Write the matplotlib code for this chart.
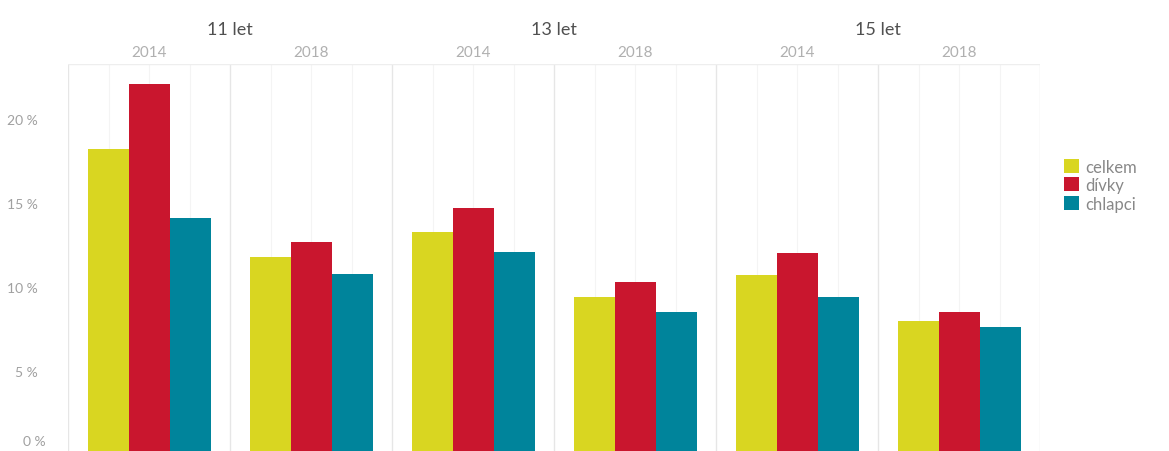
#!/usr/bin/env python3

import numpy as np
import matplotlib
matplotlib.use('Agg')
import matplotlib.pyplot as plt
from matplotlib.patches import Patch

# data (% )
ages = ['11 let', '13 let', '15 let']
years = ['2014', '2018']
series = ['celkem', 'dívky', 'chlapci']
celkem = [18.2, 11.8, 13.3, 9.4, 10.7, 8.0]
divky = [22.1, 12.7, 14.7, 10.3, 12.0, 8.5]
chlapci = [14.1, 10.8, 12.1, 8.5, 9.4, 7.6]
yticks = [5, 10, 15, 20]

colors = ['#d9d621', '#c9162e', '#00849b']

plt.rcParams['font.family'] = ['Lato', 'DejaVu Sans']

fig = plt.figure(figsize=(11.69, 4.52), dpi=100)
ax = fig.add_axes([0.0582, 0.0, 0.8315, 0.856])

n = len(celkem)
x = np.arange(n) + 0.5
w = 0.253
for k, vals in enumerate([celkem, divky, chlapci]):
    ax.bar(x + (k - 1) * w, vals, width=w, color=colors[k], zorder=3, linewidth=0)

ax.set_xlim(0, n)
# the zero line sits just below the picture's bottom edge
ax.set_ylim(0.24, 23.27)

# panel separators and faint inner gridlines
for i in range(n + 1):
    ax.axvline(i, color='#e6e6e6', lw=1.0, zorder=1)
for i in range(n):
    for f in (0.25, 0.5, 0.75):
        ax.axvline(i + f, color='#f4f4f4', lw=0.8, zorder=1)
ax.axhline(23.27, color='#eeeeee', lw=1.0, zorder=1)

for s in ax.spines.values():
    s.set_visible(False)
ax.set_xticks([])
ax.set_yticks(yticks)
ax.set_yticklabels(['{} %'.format(v) for v in yticks], color='#a0a0a0', fontsize=10)
ax.tick_params(axis='y', length=0, pad=22)
# zero label, lifted so it is not cut at the bottom edge
ax.text(-22 / 972 * n, 0.85, '0 %', ha='right', va='center',
        color='#a0a0a0', fontsize=10, clip_on=False)

# year labels above each panel
for i in range(n):
    ax.text(i + 0.5, 1.012, years[i % 2], transform=ax.get_xaxis_transform(),
            ha='center', va='bottom', fontsize=11, color='#b0b0b0')
# age group labels
for j, a in enumerate(ages):
    ax.text(2 * j + 1, 1.07, a, transform=ax.get_xaxis_transform(),
            ha='center', va='bottom', fontsize=13, color='#505050')

handles = [Patch(facecolor=c, edgecolor='none') for c in colors]
leg = fig.legend(handles, series, loc='upper left', bbox_to_anchor=(0.897, 0.68),
                 frameon=False, fontsize=12, handlelength=0.9, handleheight=0.9,
                 handletextpad=0.4, labelspacing=0.15)
for t in leg.get_texts():
    t.set_color('#888888')

fig.savefig('out.png', dpi=100)
